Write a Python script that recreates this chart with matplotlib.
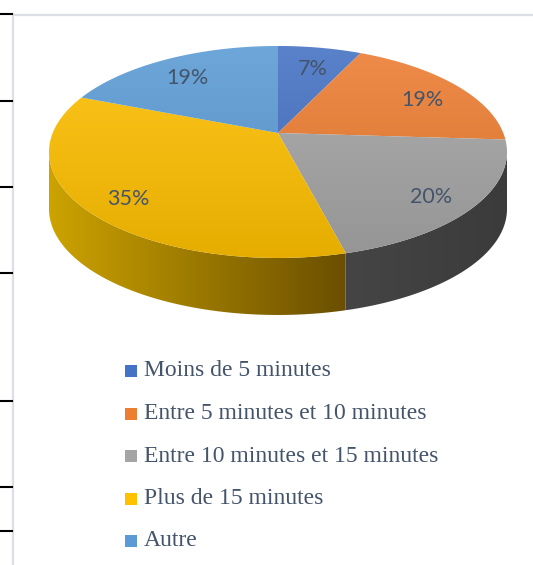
import numpy as np
import matplotlib
matplotlib.use('Agg')
import matplotlib.pyplot as plt
from matplotlib.patches import Polygon, Rectangle
from matplotlib.colors import to_rgb

# data
categories = ['Moins de 5 minutes', 'Entre 5 minutes et 10 minutes',
              'Entre 10 minutes et 15 minutes', 'Plus de 15 minutes', 'Autre']
values = [7, 19, 20, 35, 19]
colors = ['#4472C4', '#ED7D31', '#A5A5A5', '#FFC000', '#5B9BD5']
side_colors = [('#3a3a3a', '#3a3a3a'), ('#b85a14', '#8a4210'), ('#454545', '#3b3b3b'),
               ('#cca300', '#6a4f00'), ('#3f74a8', '#2d5886')]

# perspective of the pie (pixels)
CX, CY = 278, 133      # apex of the slices
G = 0.179              # perspective factor
C = -78.8
A = 225.3
DEPTH = 57
TXT = '#44546A'


def proj(theta, r=1.0, dz=0.0):
    t = np.radians(theta)
    u = r * np.sin(t)
    w = r * np.cos(t)
    d = 1 + G * w
    return CX + A * u / d, (C * w + CY) / d + dz


def grad_fill(ax, verts, c0, c1, horizontal=False, bounds=None, z=2):
    poly = Polygon(verts, closed=True, facecolor='none', edgecolor='none')
    ax.add_patch(poly)
    if bounds is None:
        x0, y0 = verts.min(axis=0)
        x1, y1 = verts.max(axis=0)
    else:
        x0, x1, y0, y1 = bounds
    t = np.linspace(0, 1, 256)
    c0, c1 = np.array(to_rgb(c0)), np.array(to_rgb(c1))
    col = c0[None, :] * (1 - t[:, None]) + c1[None, :] * t[:, None]
    img = col[None, :, :] if horizontal else col[:, None, :]
    im = ax.imshow(img, extent=(x0, x1, y1, y0), origin='upper', aspect='auto',
                   interpolation='bilinear', zorder=z)
    im.set_clip_path(poly)


def shade(c, f):
    c = np.array(to_rgb(c))
    if f > 1:
        return tuple(c + (1 - c) * (f - 1))
    return tuple(c * f)


fig = plt.figure(figsize=(5.33, 5.65), dpi=100)
ax = fig.add_axes([0, 0, 1, 1])
ax.set_xlim(0, 533)
ax.set_ylim(565, 0)
ax.axis('off')

# page borders
ax.plot([13, 13], [14, 565], color='#dce0e5', lw=1.6, zorder=1)
ax.plot([13, 533], [15, 15], color='#dce0e5', lw=1.6, zorder=1)
for ty in [14, 101, 187, 273, 401, 487, 531]:
    ax.plot([0, 12], [ty, ty], color='black', lw=1.5, zorder=1)

starts = np.concatenate([[0], np.cumsum(values)[:-1]]) / sum(values) * 360
ends = np.cumsum(values) / sum(values) * 360
th_right = np.degrees(np.arccos(-G))
th_left = 360 - th_right

# sides
for s, e, sc in zip(starts, ends, side_colors):
    lo, hi = max(s, th_right), min(e, th_left)
    if lo >= hi:
        continue
    th = np.linspace(lo, hi, 100)
    xt, yt = proj(th)
    xb, yb = proj(th[::-1], dz=DEPTH)
    verts = np.column_stack([np.concatenate([xt, xb]), np.concatenate([yt, yb])])
    grad_fill(ax, verts, sc[0], sc[1], horizontal=True)

# top faces
top_bounds = (40, 520, 40, 262)
for s, e, c in zip(starts, ends, colors):
    th = np.linspace(s, e, 120)
    xr, yr = proj(th)
    verts = np.column_stack([np.concatenate([[CX], xr]), np.concatenate([[CY], yr])])
    grad_fill(ax, verts, shade(c, 1.12), shade(c, 0.9), bounds=top_bounds, z=3)

# percentage labels
for s, e, v in zip(starts, ends, values):
    lx, ly = proj((s + e) / 2, r=0.8)
    ax.text(lx, ly + 6, f'{v}%', ha='center', va='center', fontsize=15.5,
            family='Lato', color=TXT, zorder=5)

# legend
for i, (cat, c) in enumerate(zip(categories, colors)):
    yy = 371 + i * 42.5
    ax.add_patch(Rectangle((124.5, yy - 6), 12, 12, facecolor=c, edgecolor='none'))
    ax.text(144, yy, cat, ha='left', va='center', fontsize=17,
            family='Liberation Serif', color=TXT)

fig.savefig('out.png', dpi=100)
